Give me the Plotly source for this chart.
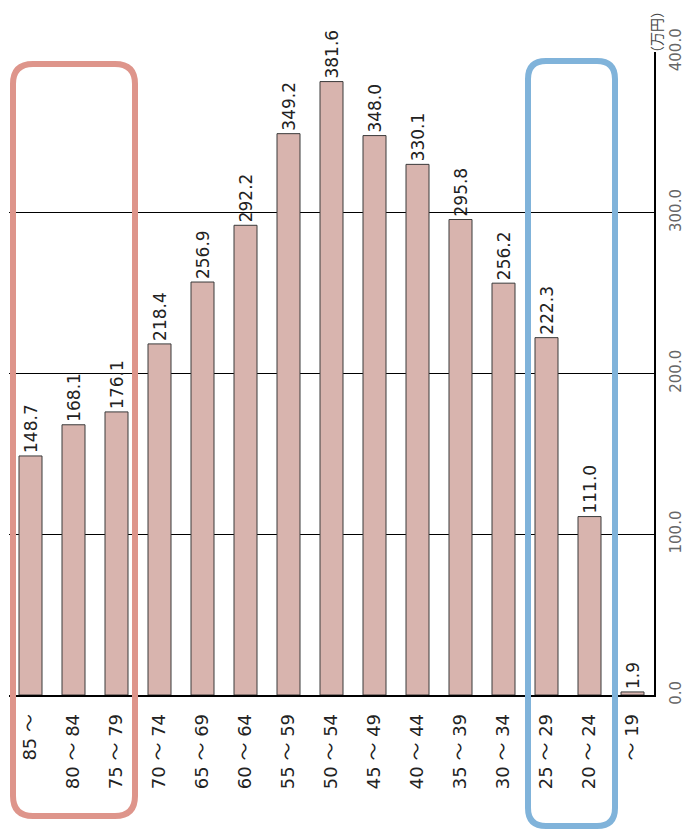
import plotly.graph_objects as go

# Age bands and average annual income (万円)
categories = ["85 ～", "80 ～ 84", "75 ～ 79", "70 ～ 74", "65 ～ 69", "60 ～ 64", "55 ～ 59",
              "50 ～ 54", "45 ～ 49", "40 ～ 44", "35 ～ 39", "30 ～ 34", "25 ～ 29", "20 ～ 24", "～ 19"]
values = [148.7, 168.1, 176.1, 218.4, 256.9, 292.2, 349.2,
          381.6, 348.0, 330.1, 295.8, 256.2, 222.3, 111.0, 1.9]
value_ticks = [0, 100, 200, 300, 400]
unit_label = "（万円）"

W, H = 688, 836
ML, MR, MT, MB = 9, 34, 52, 141
PW, PH = W - ML - MR, H - MT - MB

FONT = "DejaVu Sans, Noto Sans CJK JP, sans-serif"


def px_to_paper(x, y):
    return (x - ML) / PW, (H - MB - y) / PH


def rounded_rect(x0, y0, x1, y1, r):
    """Rounded rectangle path in paper coordinates from pixel corners."""
    def P(x, y):
        px, py = px_to_paper(x, y)
        return f"{px:.5f},{py:.5f}"
    return (f"M {P(x0 + r, y0)} L {P(x1 - r, y0)} Q {P(x1, y0)} {P(x1, y0 + r)} "
            f"L {P(x1, y1 - r)} Q {P(x1, y1)} {P(x1 - r, y1)} "
            f"L {P(x0 + r, y1)} Q {P(x0, y1)} {P(x0, y1 - r)} "
            f"L {P(x0, y0 + r)} Q {P(x0, y0)} {P(x0 + r, y0)} Z")


fig = go.Figure()
fig.add_trace(go.Bar(
    x=categories,
    y=values,
    text=[f"{v:.1f}" for v in values],
    textposition="outside",
    textangle=-90,
    constraintext="none",
    cliponaxis=False,
    textfont=dict(family=FONT, size=17, color="#222222"),
    marker=dict(color="#d8b4ae", line=dict(color="#3a3a3a", width=1)),
))

fig.update_layout(
    width=W, height=H,
    margin=dict(l=ML, r=MR, t=MT, b=MB, pad=0, autoexpand=False),
    paper_bgcolor="white",
    plot_bgcolor="white",
    bargap=0.465,
    showlegend=False,
    xaxis=dict(
        type="category",
        range=[-0.5, len(categories) - 0.5],
        tickangle=-90,
        tickfont=dict(family=FONT, size=18, color="#222222"),
        showline=True, linecolor="black", linewidth=1.5,
        showgrid=False, ticks="", ticklabelstandoff=10,
        automargin=False,
    ),
    yaxis=dict(
        side="right",
        range=[0, 400],
        tickvals=value_ticks,
        tickformat=".1f",
        tickangle=-90,
        tickfont=dict(family=FONT, size=15, color="#666666"),
        showgrid=True, gridcolor="black", gridwidth=1.2,
        showline=True, linecolor="black", linewidth=1.5,
        zeroline=False, ticks="", ticklabelstandoff=7,
        automargin=False,
    ),
)

ux, uy = px_to_paper(657, 32)
fig.add_annotation(
    x=ux, y=uy, xref="paper", yref="paper",
    xanchor="center", yanchor="middle",
    text=unit_label, showarrow=False, textangle=-90,
    font=dict(family=FONT, size=14, color="#444444"),
)

# Highlight frames around the oldest and youngest groups
fig.add_shape(type="path", xref="paper", yref="paper", layer="above",
              path=rounded_rect(13, 64, 135, 816, 20),
              line=dict(color="#de958b", width=6))
fig.add_shape(type="path", xref="paper", yref="paper", layer="above",
              path=rounded_rect(528, 61, 615, 826, 18),
              line=dict(color="#80b3da", width=6))

fig.write_html("out.html")
